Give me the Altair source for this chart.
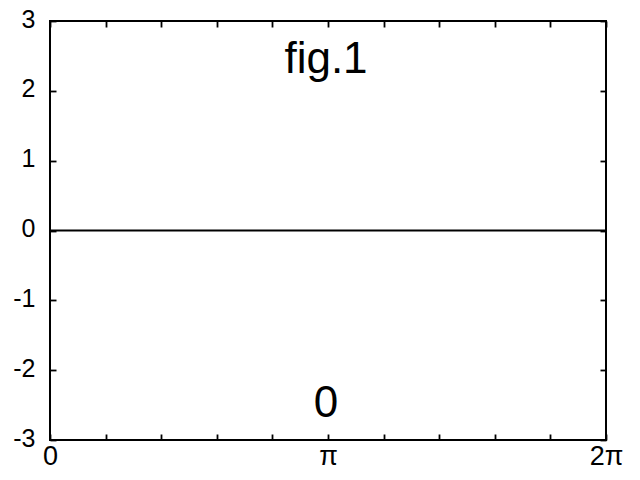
import math
import altair as alt
import pandas as pd

# Data
line_x = [0.0, 2 * math.pi]
line_y = [0.0, 0.0]

label_texts = ["fig.1", "0"]
label_x = [math.pi, math.pi]
label_y = [2.44, -2.49]

x_tick_values = [k * math.pi / 5 for k in range(11)]
y_tick_values = [-3, -2, -1, 0, 1, 2, 3]

line_df = pd.DataFrame({"x": line_x, "y": line_y})
text_df = pd.DataFrame({"x": label_x, "y": label_y, "t": label_texts})

FONT = "Liberation Sans"
xscale = alt.Scale(domain=[0, 2 * math.pi], nice=False, zero=False)
yscale = alt.Scale(domain=[-3, 3], nice=False, zero=False)

x_label_expr = ("abs(datum.value) < 0.01 ? '0' : abs(datum.value - PI) < 0.01 ? 'π' : "
                "abs(datum.value - 2*PI) < 0.01 ? '2π' : ''")
y_label_expr = "'' + datum.value"

line = alt.Chart(line_df).mark_line(color="black", strokeWidth=2).encode(
    x=alt.X("x:Q", scale=xscale, title=None,
            axis=alt.Axis(orient="bottom", values=x_tick_values, labelExpr=x_label_expr,
                          domain=False, grid=False, ticks=True, tickSize=6, tickWidth=1.8,
                          tickColor="black", offset=-6, labelPadding=3, labelFont=FONT,
                          labelFontSize=27, labelColor="black", labelOverlap=False,
                          labelFlush=False)),
    y=alt.Y("y:Q", scale=yscale, title=None,
            axis=alt.Axis(orient="left", values=y_tick_values, labelExpr=y_label_expr,
                          domain=False, grid=False,
                          ticks=True, tickSize=6, tickWidth=1.8, tickColor="black",
                          offset=-6, labelPadding=15, labelFont=FONT, labelFontSize=25,
                          labelColor="black", labelOffset=-2, labelOverlap=False,
                          labelFlush=False)),
)

texts = alt.Chart(text_df).mark_text(font=FONT, fontSize=44, color="black",
                                     baseline="middle", align="center", dx=-2).encode(
    x=alt.X("x:Q", scale=xscale, title=None,
            axis=alt.Axis(orient="top", values=x_tick_values, labels=False, domain=False,
                          grid=False, ticks=True, tickSize=6, tickWidth=1.8,
                          tickColor="black", offset=-6)),
    y=alt.Y("y:Q", scale=yscale, title=None,
            axis=alt.Axis(orient="right", values=y_tick_values, labels=False, domain=False,
                          grid=False, ticks=True, tickSize=6, tickWidth=1.8,
                          tickColor="black", offset=-6)),
    text="t:N",
)

chart = alt.layer(line, texts).resolve_axis(x="independent", y="independent").properties(
    width=556, height=419,
    autosize=alt.AutoSizeParams(type="none"),
    padding={"left": 50, "top": 21, "right": 34, "bottom": 40},
    background="white",
).configure_view(stroke="black", strokeWidth=2)

chart.save("out.html", embed_options={"renderer": "svg", "actions": False})
